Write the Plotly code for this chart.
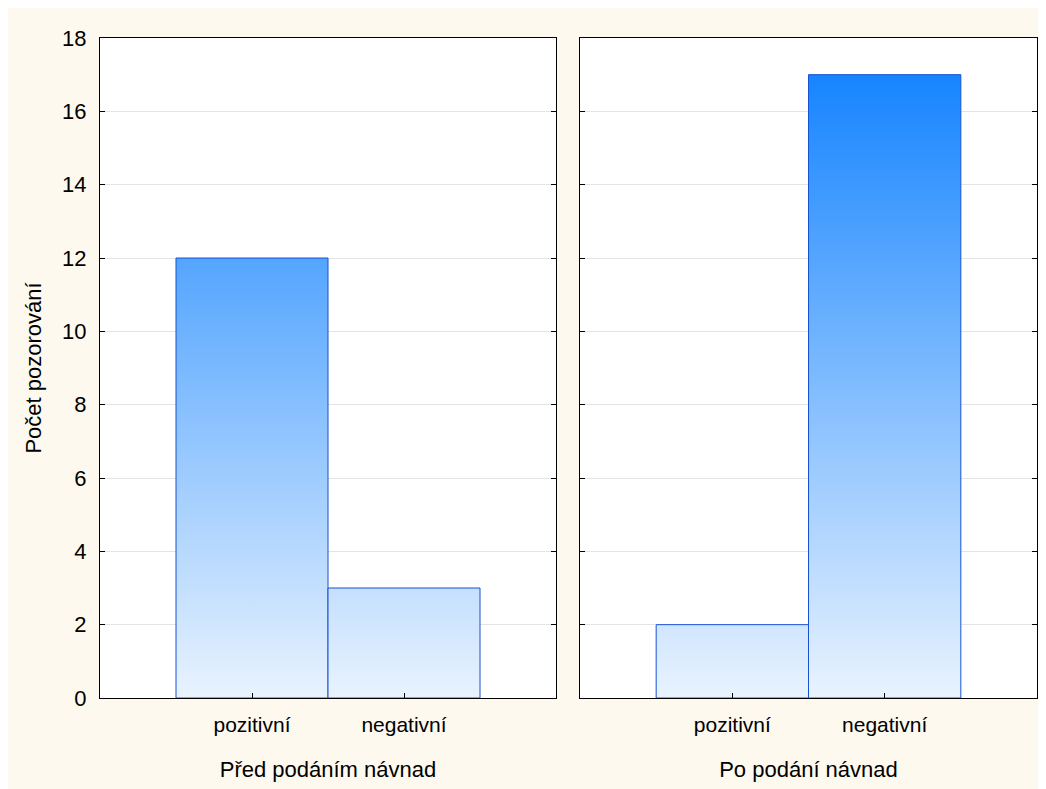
import plotly.graph_objects as go

categories = ["pozitivní", "negativní"]
panel_titles = ["Před podáním návnad", "Po podání návnad"]
before_values = [12, 3]
after_values = [2, 17]
y_ticks = [0, 2, 4, 6, 8, 10, 12, 14, 16, 18]
y_title = "Počet pozorování"

FONT = "Arial, Liberation Sans, sans-serif"
CREAM = "#FDF9EF"
FS = 22
FT = 21
grad = [[0, "#E9F3FE"], [1, "#0A7EFF"]]

fig = go.Figure()

def add_bars(values, xref, yref):
    for i, v in enumerate(values):
        xs = [i - 0.5, i + 0.5, i + 0.5, i - 0.5, i - 0.5]
        ys = [0, 0, v, v, 0]
        fig.add_trace(go.Scatter(
            x=xs, y=ys, mode="lines", fill="toself",
            fillgradient=dict(type="vertical", colorscale=grad, start=0, stop=18),
            line=dict(color="#1652D2", width=1),
            xaxis=xref, yaxis=yref, showlegend=False, hoverinfo="skip"))

add_bars(before_values, "x", "y")
add_bars(after_values, "x2", "y2")

common_x = dict(range=[-1, 2], tickvals=list(range(len(categories))), ticktext=categories,
                ticks="inside", ticklen=5, tickcolor="black", showline=True, linecolor="black",
                linewidth=1, mirror=True, showgrid=False, zeroline=False,
                tickfont=dict(family=FONT, size=FT, color="black"),
                ticklabelstandoff=8)
common_y = dict(range=[0, 18], tickvals=y_ticks, ticks="inside", ticklen=5, tickcolor="black",
                showline=True, linecolor="black", linewidth=1, mirror="ticks",
                showgrid=True, gridcolor="#E4E4E4", gridwidth=1, zeroline=False,
                tickfont=dict(family=FONT, size=FS, color="black"))

fig.update_layout(
    width=1046, height=789,
    margin=dict(l=92, r=17, t=30, b=99),
    paper_bgcolor=CREAM, plot_bgcolor="white",
    font=dict(family=FONT, size=FS, color="black"),
    xaxis=dict(domain=[0, 456 / 937], anchor="y",
               title=dict(text=panel_titles[0], font=dict(family=FONT, size=FS), standoff=26),
               **common_x),
    xaxis2=dict(domain=[480 / 937, 1], anchor="y2",
                title=dict(text=panel_titles[1], font=dict(family=FONT, size=FS), standoff=26),
                **common_x),
    yaxis=dict(anchor="x", title=dict(text=y_title, font=dict(family=FONT, size=FS), standoff=14),
               ticklabelstandoff=8, **common_y),
    yaxis2=dict(anchor="x2", matches="y", showticklabels=False, **common_y),
)

fig.write_html("out.html")
